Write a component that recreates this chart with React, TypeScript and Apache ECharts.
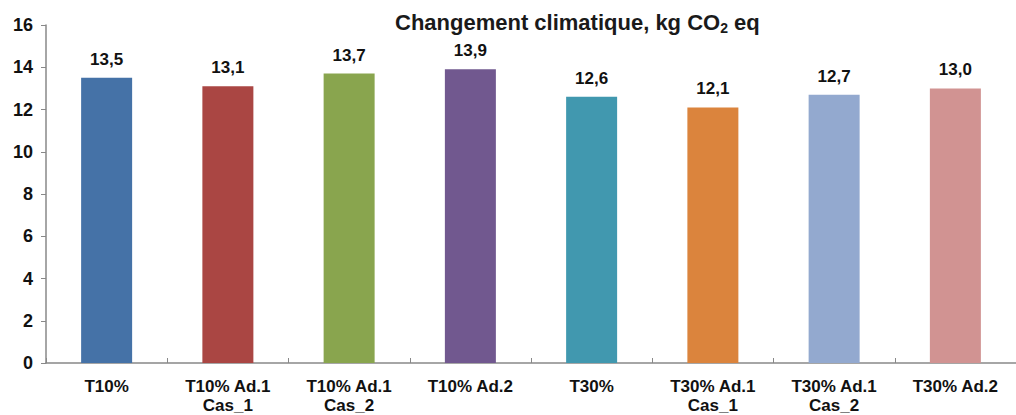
import React, { useEffect, useRef } from "react";
import * as echarts from "echarts";

const categories = [
  "T10%",
  "T10% Ad.1\nCas_1",
  "T10% Ad.1\nCas_2",
  "T10% Ad.2",
  "T30%",
  "T30% Ad.1\nCas_1",
  "T30% Ad.1\nCas_2",
  "T30% Ad.2",
];
const values = [13.5, 13.1, 13.7, 13.9, 12.6, 12.1, 12.7, 13.0];
const colors = ["#4572A7", "#AA4643", "#89A54E", "#71588F", "#4198AF", "#DB843D", "#93A9CF", "#D19392"];
const yTicks = { min: 0, max: 16, interval: 2 };

const FONT = "'Liberation Sans', Arial, sans-serif";

export default function App() {
  const ref = useRef<HTMLDivElement>(null);
  useEffect(() => {
    if (!ref.current) return;
    const chart = echarts.init(ref.current, null, { renderer: "svg" });
    chart.setOption({
      animation: false,
      backgroundColor: "#ffffff",
      title: {
        text: "{a|Changement climatique, kg CO}{s|2}{a| eq}",
        left: 390,
        top: 4,
        textStyle: {
          rich: {
            a: { fontFamily: FONT, fontWeight: "bold", fontSize: 22, color: "#1a1a1a", lineHeight: 26 },
            s: { fontFamily: FONT, fontWeight: "bold", fontSize: 14, color: "#1a1a1a", verticalAlign: "bottom", lineHeight: 14 },
          },
        },
      },
      grid: { left: 46, top: 25, width: 983, height: 342 },
      xAxis: {
        type: "category",
        data: categories,
        axisLine: { lineStyle: { color: "#888888", width: 1.5 } },
        axisTick: { show: true, inside: true, length: 5, lineStyle: { color: "#888888" } },
        axisLabel: {
          interval: 0,
          margin: 14,
          fontFamily: FONT,
          fontWeight: "bold",
          fontSize: 17,
          lineHeight: 19,
          color: "#111111",
        },
      },
      yAxis: {
        type: "value",
        min: yTicks.min,
        max: yTicks.max,
        interval: yTicks.interval,
        axisLine: { show: true, lineStyle: { color: "#888888", width: 1.5 } },
        axisTick: { show: true, length: 5, lineStyle: { color: "#888888" } },
        splitLine: { show: false },
        axisLabel: {
          margin: 13,
          fontFamily: FONT,
          fontWeight: "bold",
          fontSize: 18,
          color: "#111111",
        },
      },
      series: [
        {
          type: "bar",
          barWidth: 51,
          data: values.map((v, i) => ({ value: v, itemStyle: { color: colors[i] } })),
          label: {
            show: true,
            position: "top",
            distance: 10,
            fontFamily: FONT,
            fontWeight: "bold",
            fontSize: 17,
            color: "#111111",
            formatter: (p: any) => Number(p.value).toFixed(1).replace(".", ","),
          },
        },
      ],
    });
    return () => chart.dispose();
  }, []);
  return (
    <div
      ref={ref}
      style={{ position: "fixed", left: 0, top: 0, width: 1016, height: 415 }}
    />
  );
}
